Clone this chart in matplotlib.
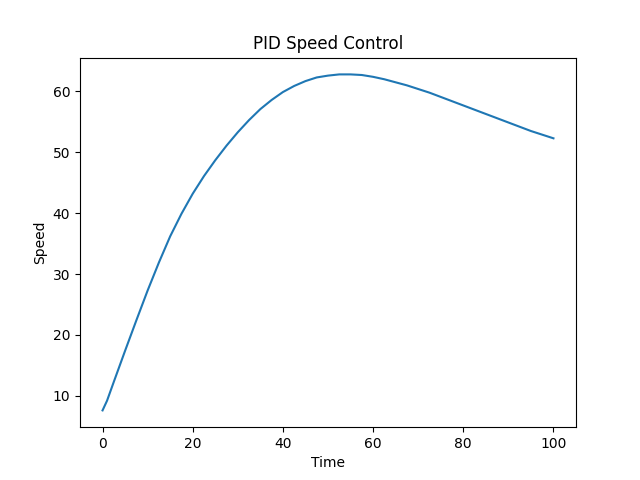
import matplotlib
matplotlib.use('Agg')
import matplotlib.pyplot as plt

# speed at these time steps
time = [0, 1, 2.5, 5, 7.5, 10, 12.5, 15, 17.5, 20, 22.5, 25, 27.5, 30,
        32.5, 35, 37.5, 40, 42.5, 45, 47.5, 50, 52.5, 55, 57.5, 60,
        62.5, 65, 67.5, 70, 72.5, 75, 77.5, 80, 82.5, 85, 87.5, 90,
        92.5, 95, 97.5, 100]
speed = [7.6, 9.2, 12.3, 17.4, 22.4, 27.3, 31.9, 36.2, 39.9, 43.2, 46.1,
         48.7, 51.1, 53.3, 55.3, 57.1, 58.6, 59.9, 60.9, 61.7, 62.3, 62.6,
         62.8, 62.8, 62.7, 62.4, 62.0, 61.5, 61.0, 60.4, 59.8, 59.1, 58.4,
         57.7, 57.0, 56.3, 55.6, 54.9, 54.2, 53.5, 52.9, 52.3]

fig, ax = plt.subplots(figsize=(6.4, 4.8), dpi=100)
ax.plot(time, speed)
ax.set_title('PID Speed Control')
ax.set_xlabel('Time')
ax.set_ylabel('Speed')
fig.savefig('out.png')
